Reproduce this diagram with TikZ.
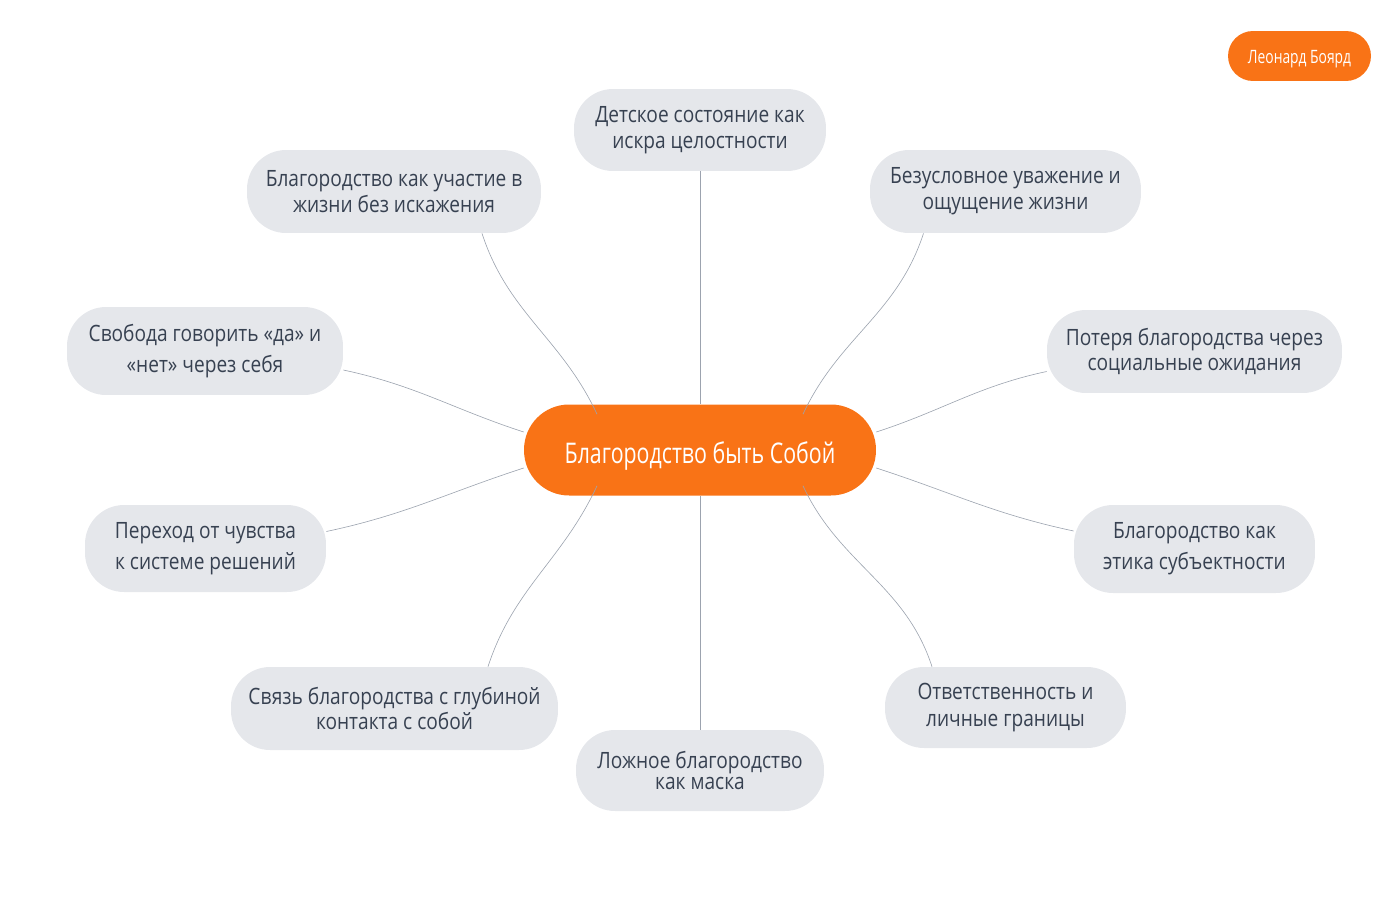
\documentclass[tikz,border=0pt]{standalone}
\usepackage{fontspec}
\setmainfont{Open Sans}[FakeStretch=0.85]
\newfontfamily\corefont{Open Sans}[FakeStretch=0.75]
\usetikzlibrary{calc}
\definecolor{coreorange}{HTML}{F97316}
\definecolor{topicgray}{HTML}{E5E7EB}
\definecolor{topictext}{HTML}{374151}
\definecolor{linkgray}{HTML}{9CA3AF}

\begin{document}
\begin{tikzpicture}[
        x=0.02cm,
        y=-0.02cm,
        topic/.style={
            rectangle,
            rounded corners=0.78cm,
            fill=topicgray,
            text=topictext,
            align=center,
            inner sep=0pt,
            font=\fontsize{12.8}{#1}\selectfont
        },
        topic/.default=14.7,
        core/.style={
            rectangle,
            rounded corners=0.9cm,
            fill=coreorange,
            text=white,
            inner sep=0pt,
            text depth=0pt,
            font=\corefont\fontsize{16.2}{19}\selectfont
        },
        link/.style={
            draw=linkgray,
            line width=0.35pt
        }
    ]
        \useasboundingbox (0,0) rectangle (1400,900);

        % centre and author tag
        \node[core, text height=15pt, minimum width=7.04cm, minimum height=1.82cm] (c) at (700,450)
            {Благородство быть Собой};
        \node[core, text height=8.6pt, rounded corners=0.5cm, minimum width=2.86cm, minimum height=1cm,
            font=\corefont\fontsize{10.5}{12}\selectfont] (author) at (1299.5,56) {Леонард Боярд};

        % topics
        \node[topic, minimum width=5.04cm, minimum height=1.64cm] (t) at (700,130)
            {Детское состояние как\\искра целостности};
        \node[topic, minimum width=5.88cm, minimum height=1.66cm] (ul) at (394,191.5)
            {Благородство как участие в\\жизни без искажения};
        \node[topic, minimum width=5.42cm, minimum height=1.66cm] (ur) at (1005.5,191.5)
            {Безусловное уважение и\\ощущение жизни};
        \node[topic=17.6, minimum width=5.52cm, minimum height=1.76cm] (lu) at (205,351)
            {Свобода говорить «да» и\\«нет» через себя};
        \node[topic=14.2, minimum width=5.9cm, minimum height=1.66cm] (ru) at (1194.5,351.5)
            {Потеря благородства через\\социальные ожидания};
        \node[topic=17.6, minimum width=4.82cm, minimum height=1.74cm] (ll) at (205.5,548.5)
            {Переход от чувства\\к системе решений};
        \node[topic=17.6, minimum width=4.82cm, minimum height=1.76cm] (rl) at (1194.5,549)
            {Благородство как\\этика субъектности};
        \node[topic, minimum width=6.54cm, minimum height=1.66cm] (bl) at (394.5,708.5)
            {Связь благородства с глубиной\\контакта с собой};
        \node[topic=15.3, minimum width=4.82cm, minimum height=1.62cm] (br) at (1005.5,707.5)
            {Ответственность и\\личные границы};
        \node[topic=11.9, minimum width=4.96cm, minimum height=1.62cm] (b) at (700,770.5)
            {Ложное благородство\\как маска};

        % links
        \draw[link] (t.south) -- (c.north);
        \draw[link] (c.south) -- (b.north);
        \draw[link] ($(ul.south)+(88,0)$) to[out=-72, in=115] ($(c.north)+(-103,10)$);
        \draw[link] ($(ur.south)+(-82,0)$) to[out=-108, in=65] ($(c.north)+(103,10)$);
        \draw[link] ($(lu.east)+(0,19)$) to[out=-12, in=162] ($(c.west)+(0,-18)$);
        \draw[link] ($(ru.west)+(0,20)$) to[out=-168, in=18] ($(c.east)+(0,-18)$);
        \draw[link] ($(ll.east)+(0,-17)$) to[out=12, in=-162] ($(c.west)+(0,18)$);
        \draw[link] ($(rl.west)+(0,-18)$) to[out=168, in=-18] ($(c.east)+(0,18)$);
        \draw[link] ($(bl.north)+(93.5,0)$) to[out=72, in=-115] ($(c.south)+(-103,-10)$);
        \draw[link] ($(br.north)+(-73.5,0)$) to[out=108, in=-65] ($(c.south)+(103,-10)$);
    \end{tikzpicture}
\end{document}
